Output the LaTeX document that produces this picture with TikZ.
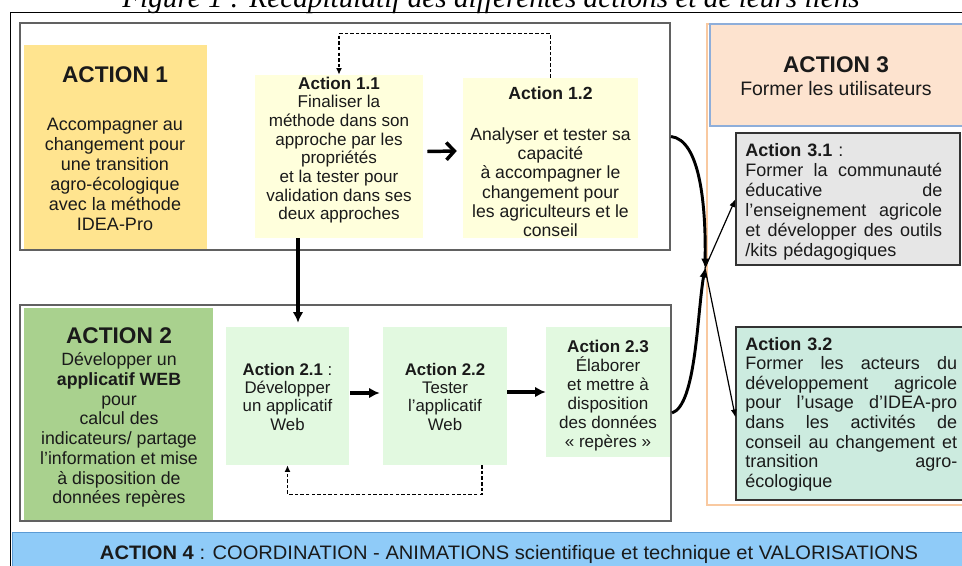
\documentclass[tikz,border=0pt]{standalone}
\usepackage{fontspec}
\usepackage{graphicx}
\setmainfont{Liberation Sans}
\newfontfamily\serifit{Liberation Serif}
\usetikzlibrary{arrows.meta,fit,calc}
\definecolor{ink}{HTML}{1A1A1A}
\definecolor{yel}{HTML}{FFE48F}
\definecolor{ltyel}{HTML}{FFFFDC}
\definecolor{grn}{HTML}{A9D18E}
\definecolor{ltgrn}{HTML}{E2F9E0}
\definecolor{peach}{HTML}{FDE3CF}
\definecolor{hdrblue}{HTML}{8EAEDA}
\definecolor{orangeln}{HTML}{F9C9A0}
\definecolor{gry}{HTML}{E6E6E6}
\definecolor{teal}{HTML}{CCEBDF}
\definecolor{sky}{HTML}{8FCBF8}
\definecolor{skyln}{HTML}{5B9BD5}
\newcommand{\myfs}[2]{\fontsize{#1}{#2}\selectfont}
\newcommand{\jline}[2]{\leavevmode\hbox to #1{#2}}
\begin{document}
\begin{tikzpicture}[x=0.75pt,y=-0.75pt,
  fillbox/.style={inner sep=0pt, draw=none},
  grp/.style={inner sep=0pt, draw=black!62, line width=1.5pt},
  subbox/.style={inner sep=0pt, draw=black!80, line width=0.8pt},
  txt/.style={inner sep=0pt, align=center, text=ink, anchor=base},
  ltxt/.style={inner sep=0pt, align=left, text=ink, anchor=base west},
  dsh/.style={dash pattern=on 2.6pt off 1.6pt, line width=1.1pt, -{Latex[length=5pt,width=4.5pt]}},
  thk/.style={line width=2.6pt, -{Latex[length=8pt,width=8pt]}},
  crv/.style={line width=2.2pt, -{Latex[length=7pt,width=6pt]}},
  thn/.style={line width=0.9pt, -{Latex[length=6pt,width=4.5pt]}}]
\useasboundingbox (0,0) rectangle (962,566);

% title (cut by page top)
\node[anchor=base, inner sep=0pt, text=black] (title) at (491,8)
  {\resizebox{553pt}{!}{\serifit\itshape\myfs{20}{24}Figure 1 : Récapitulatif des différentes actions et de leurs liens}};

% outer frame
\draw[black, line width=0.75pt] (10,13) rectangle (980,590);

% ---------- ACTION 1 group ----------
\node[fillbox, fill=yel, fit={(24,45) (207,249)}] (a1) {};
\node[fillbox, fill=ltyel, fit={(255,75) (423,238)}] (a11) {};
\node[fillbox, fill=ltyel, fit={(463,78) (638,238)}] (a12) {};
\node[grp, fit={(20,23) (670,250)}] (g1) {};

\node[txt, font=\bfseries\myfs{17}{20}] (a1h) at (115,83) {ACTION 1};
\node[txt, font=\myfs{13.5}{15}] (a1t) at (115,231)
  {Accompagner au\\changement pour\\une transition\\agro-écologique\\avec la méthode\\IDEA-Pro};

\node[txt, font=\myfs{12.8}{14}] (a11t) at (339,219.7)
  {\textbf{Action 1.1}\\Finaliser la\\méthode dans son\\approche par les\\propriétés\\et la tester pour\\validation dans ses\\deux approches};

\node[txt, font=\bfseries\myfs{13.2}{14.5}] (a12h) at (550.5,100) {Action 1.2};
\node[txt, font=\myfs{13.2}{14.5}] (a12t) at (550.5,236.7)
  {Analyser et tester sa\\capacité\\à accompagner le\\changement pour\\les agriculteurs et le\\conseil};

\draw[dsh] (a12.north) -- ++(0,-44) -| (a11.north);
\draw[line width=2.6pt, -{Straight Barb[length=6pt,width=13pt]}] ([shift={(4,-5)}]a11.east) -- ([shift={(-6,-7)}]a12.west);

% ---------- ACTION 2 group ----------
\node[fillbox, fill=grn, fit={(24,308) (213,520)}] (a2) {};
\node[fillbox, fill=ltgrn, fit={(226,327) (349,465)}] (a21) {};
\node[fillbox, fill=ltgrn, fit={(383,327) (507,465)}] (a22) {};
\node[fillbox, fill=ltgrn, fit={(546,327) (670,457)}] (a23) {};
\node[grp, fit={(20,305) (671,521)}] (g2) {};

\node[txt, font=\bfseries\myfs{17}{20}] (a2h) at (119,343) {ACTION 2};
\node[txt, font=\myfs{13.3}{14.8}] (a2t) at (119,503.9)
  {Développer un\\\textbf{applicatif WEB}\\pour\\calcul des\\indicateurs/ partage\\l’information et mise\\à disposition de\\données repères};

\node[txt, font=\myfs{12.6}{13.75}] (a21t) at (287.5,430)
  {\textbf{Action 2.1} :\\Développer\\un applicatif\\Web};
\node[txt, font=\myfs{12.6}{13.75}] (a22t) at (445,430)
  {\textbf{Action 2.2}\\Tester\\l’applicatif\\Web};
\node[txt, font=\myfs{12.8}{14.25}] (a23t) at (608,447)
  {\textbf{Action 2.3}\\Élaborer\\et mettre à\\disposition\\des données\\« repères »};

\draw[thk] ([shift={(1,-3)}]a21.east) -- ([shift={(-3,-3)}]a22.west);
\draw[thk] (a22.east |- a23.west) -- (a23.west);
\draw[dsh] ([shift={(37,0)}]a22.south) -- ++(0,29) -| (a21.south);

% vertical link 1.1 -> 2.1
\draw[thk, shorten >=3pt] ([shift={(-41,0)}]a11.south) coordinate (v1) -- (v1 |- a21.north);

% ---------- ACTION 3 ----------
\draw[orangeln, line width=0.9pt] (707,24) rectangle (990,505);
\node[inner sep=0pt, fill=peach, draw=hdrblue, line width=0.9pt, fit={(710,24) (990,126)}] (a3) {};
\node[txt, font=\bfseries\myfs{17}{20}] (a3h) at (836,73) {ACTION 3};
\node[txt, font=\myfs{14.6}{17}] (a3t) at (836,96) {Former les utilisateurs};

\node[subbox, fill=gry, fit={(736,133) (960,265)}] (a31) {};
\node[ltxt, text width=147.75pt, font=\myfs{13.5}{15}] (a31t) at (745,157)
  {\textbf{Action 3.1} :\\
   \jline{147.75pt}{Former\hfill la\hfill communauté}\\
   \jline{147.75pt}{éducative\hfill de}\\
   \jline{147.75pt}{l’enseignement\hfill agricole}\\
   \jline{147.75pt}{et\hfill développer\hfill des\hfill outils}\\
   /kits pédagogiques};

\node[subbox, fill=teal, fit={(736,327) (990,500)}] (a32) {};
\node[ltxt, text width=159pt, font=\myfs{13.5}{14.7}] (a32t) at (745,350)
  {\textbf{Action 3.2}\\
   \jline{159pt}{Former\hfill les\hfill acteurs\hfill du}\\
   \jline{159pt}{développement\hfill agricole}\\
   \jline{159pt}{pour\hfill l’usage\hfill d’IDEA-pro}\\
   \jline{159pt}{dans\hfill les\hfill activités\hfill de}\\
   \jline{159pt}{conseil\hfill au\hfill changement\hfill et}\\
   \jline{159pt}{transition\hfill agro-}\\
   écologique};

% ---------- curved links ----------
\coordinate (hub) at (705,268);
\draw[crv] (g1.east) .. controls (700,140) and (706,205) .. (hub);
\draw[crv] (g2.east) .. controls (696,405) and (697,315) .. (hub);
\draw[thn] (hub) -- (a31.west);
\draw[thn] (hub) -- ([yshift=-3]a32.west);

% ---------- ACTION 4 ----------
\node[inner sep=0pt, fill=sky, draw=skyln, line width=0.6pt, fit={(12,532) (990,590)}] (a4) {};
\node[anchor=base, inner sep=0pt, text=ink] (a4t) at (509,559)
  {\resizebox{613.5pt}{10.6pt}{\myfs{14.6}{17}\textbf{ACTION 4} : COORDINATION - ANIMATIONS scientifique et technique et VALORISATIONS}};
\end{tikzpicture}
\end{document}
